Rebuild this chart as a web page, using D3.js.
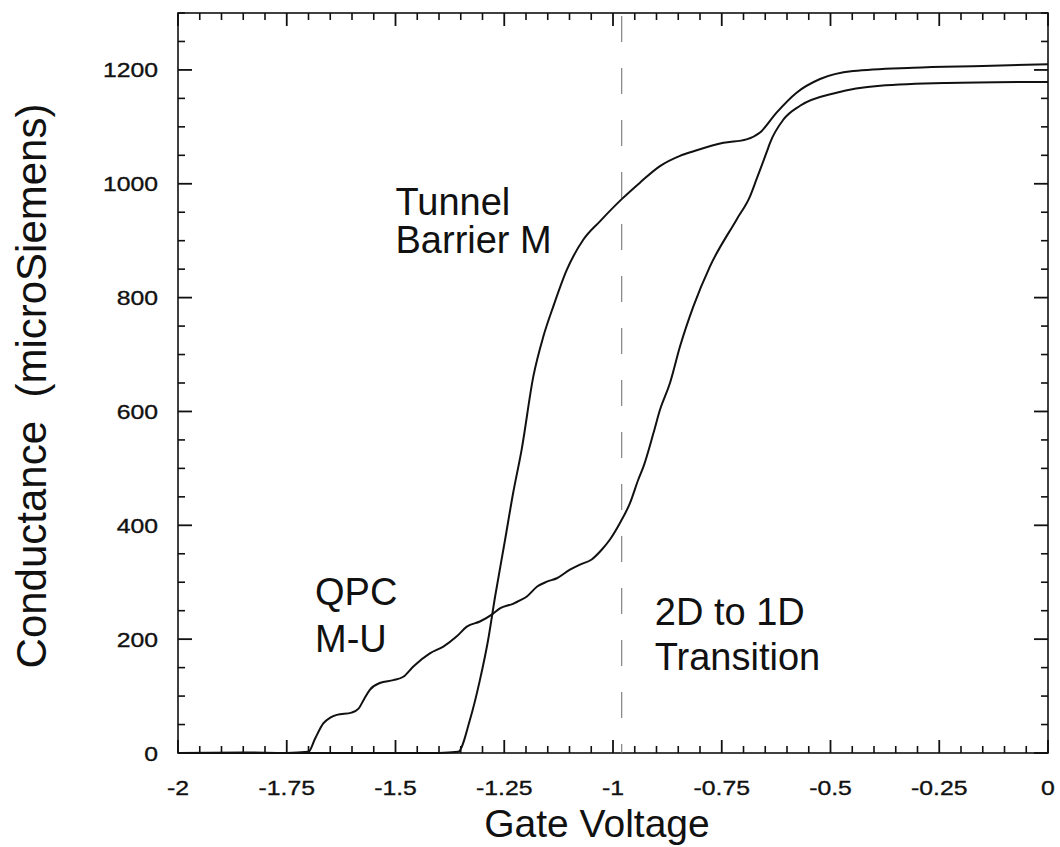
<!DOCTYPE html>
<html>
<head>
<meta charset="utf-8">
<script src="https://cdn.jsdelivr.net/npm/d3@7"></script>
<style>
  html, body { margin: 0; padding: 0; background: #fff; }
  svg { display: block; font-family: "Liberation Sans", Arial, Helvetica, sans-serif; }
</style>
</head>
<body>
<svg id="chart" width="1060" height="847"></svg>
<script>
// Gate sweep of the tunnel barrier (M)
const tunnelVoltage = [-2.00, -1.60, -1.40, -1.356, -1.329, -1.306, -1.287, -1.271, -1.248, -1.230, -1.210, -1.183, -1.160, -1.137, -1.106, -1.068, -1.030, -0.980, -0.938, -0.892, -0.846, -0.815, -0.746, -0.693, -0.662, -0.624, -0.578, -0.524, -0.448, -0.310, -0.150, 0.00];
const tunnelConductance = [0, 0, 0, 2, 58, 128, 199, 275, 375, 455, 533, 662, 732, 785, 849, 902, 934, 973, 1002, 1031, 1049, 1057, 1072, 1078, 1090, 1125, 1160, 1184, 1198, 1204, 1207, 1210];

// Gate sweep of the quantum point contact (M-U)
const qpcVoltage = [-2.00, -1.85, -1.75, -1.700, -1.685, -1.666, -1.650, -1.635, -1.601, -1.585, -1.572, -1.559, -1.536, -1.505, -1.482, -1.459, -1.421, -1.390, -1.359, -1.336, -1.306, -1.277, -1.260, -1.230, -1.214, -1.198, -1.175, -1.152, -1.129, -1.099, -1.076, -1.049, -1.026, -1.007, -0.984, -0.961, -0.942, -0.930, -0.907, -0.892, -0.869, -0.846, -0.815, -0.777, -0.716, -0.685, -0.670, -0.647, -0.639, -0.608, -0.570, -0.486, -0.386, -0.233, 0.00];
const qpcConductance = [0, 1, 0, 2, 25, 52, 62, 67, 71, 78, 95, 111, 123, 128, 134, 152, 175, 187, 205, 222, 231, 244, 254, 262, 268, 275, 292, 301, 307, 322, 331, 340, 357, 375, 404, 439, 480, 503, 562, 603, 650, 714, 785, 855, 937, 978, 1008, 1055, 1072, 1113, 1137, 1160, 1172, 1177, 1179];

// Axis ticks
const xMajorTicks = [-2, -1.75, -1.5, -1.25, -1, -0.75, -0.5, -0.25, 0];
const xTickLabels = ["-2", "-1.75", "-1.5", "-1.25", "-1", "-0.75", "-0.5", "-0.25", "0"];
const yMajorTicks = [0, 200, 400, 600, 800, 1000, 1200];
const yTickLabels = ["0", "200", "400", "600", "800", "1000", "1200"];
const xDomain = [-2, 0];
const yDomain = [0, 1300];
const transitionVoltage = -0.98;

const svg = d3.select("#chart");
const plotLeft = 178, plotRight = 1048, plotTop = 13, plotBottom = 753;

const x = d3.scaleLinear().domain(xDomain).range([plotLeft, plotRight]);
const y = d3.scaleLinear().domain(yDomain).range([plotBottom, plotTop]);

const xMinor = d3.range(-2, 0.0001, 0.05).map(v => +v.toFixed(2))
  .filter(v => !xMajorTicks.some(m => Math.abs(m - v) < 1e-6));
const yMinor = d3.range(0, 1301, 50).filter(v => !yMajorTicks.includes(v));

const ink = "#111";

// Inward tick marks on all four sides, drawn as thin filled bars
const tickG = svg.append("g").attr("fill", ink);
function addXTicks(values, len, w) {
  tickG.selectAll(null).data(values).enter().append("rect")
    .attr("x", d => x(d) - w / 2).attr("y", plotBottom - len)
    .attr("width", w).attr("height", len);
  tickG.selectAll(null).data(values).enter().append("rect")
    .attr("x", d => x(d) - w / 2).attr("y", plotTop)
    .attr("width", w).attr("height", len);
}
function addYTicks(values, len, w) {
  tickG.selectAll(null).data(values).enter().append("rect")
    .attr("y", d => y(d) - w / 2).attr("x", plotLeft)
    .attr("height", w).attr("width", len);
  tickG.selectAll(null).data(values).enter().append("rect")
    .attr("y", d => y(d) - w / 2).attr("x", plotRight - len)
    .attr("height", w).attr("width", len);
}
addXTicks(xMajorTicks, 13, 1.8);
addXTicks(xMinor, 7, 1.6);
addYTicks(yMajorTicks, 14, 1.8);
addYTicks(yMinor, 7, 1.6);

// Plot frame
svg.append("rect")
  .attr("x", plotLeft).attr("y", plotTop)
  .attr("width", plotRight - plotLeft).attr("height", plotBottom - plotTop)
  .attr("fill", "none").attr("stroke", ink).attr("stroke-width", 1.6);

// Tick labels
svg.selectAll("text.xlab").data(xMajorTicks).enter().append("text")
  .attr("class", "xlab")
  .attr("transform", d => `translate(${x(d)},795) scale(1.18,1)`)
  .attr("text-anchor", "middle")
  .attr("fill", ink).attr("stroke", ink).attr("stroke-width", 0.35)
  .style("font-size", "21px")
  .text((d, i) => xTickLabels[i]);

svg.selectAll("text.ylab").data(yMajorTicks).enter().append("text")
  .attr("class", "ylab")
  .attr("transform", d => `translate(${plotLeft - 20},${y(d)}) scale(1.18,1)`)
  .attr("text-anchor", "end").attr("dy", "0.36em")
  .attr("fill", ink).attr("stroke", ink).attr("stroke-width", 0.35)
  .style("font-size", "21px")
  .text((d, i) => yTickLabels[i]);

// Dashed marker of the 2D to 1D transition
svg.append("line")
  .attr("x1", x(transitionVoltage)).attr("x2", x(transitionVoltage))
  .attr("y1", y(yDomain[1])).attr("y2", y(0))
  .attr("stroke", "#777").attr("stroke-width", 1.1)
  .attr("stroke-dasharray", "26,26")
  .attr("stroke-dashoffset", -3);

// Conductance curves
const line = d3.line()
  .x(d => x(d[0]))
  .y(d => y(d[1]))
  .curve(d3.curveMonotoneX);

const tunnelData = tunnelVoltage.map((v, i) => [v, tunnelConductance[i]]);
const qpcData = qpcVoltage.map((v, i) => [v, qpcConductance[i]]);

svg.append("path").datum(qpcData)
  .attr("d", line).attr("fill", "none").attr("stroke", "#111").attr("stroke-width", 2);
svg.append("path").datum(tunnelData)
  .attr("d", line).attr("fill", "none").attr("stroke", "#111").attr("stroke-width", 2);

// Axis titles
svg.append("text")
  .attr("transform", "translate(46,386) rotate(-90)")
  .attr("text-anchor", "middle")
  .attr("fill", "#111")
  .style("font-size", "42px")
  .style("white-space", "pre")
  .text("Conductance  (microSiemens)");

svg.append("text")
  .attr("x", 597).attr("y", 837)
  .attr("text-anchor", "middle")
  .attr("fill", "#111")
  .style("font-size", "39px")
  .text("Gate Voltage");

// Curve annotations
const notes = [
  { t: "Tunnel", v: -1.5, g: 945 },
  { t: "Barrier M", v: -1.5, g: 878 },
  { t: "QPC", v: -1.685, g: 260 },
  { t: "M-U", v: -1.685, g: 177 },
  { t: "2D to 1D", v: -0.904, g: 225 },
  { t: "Transition", v: -0.904, g: 146 }
];
svg.selectAll("text.note").data(notes).enter().append("text")
  .attr("class", "note")
  .attr("x", d => x(d.v)).attr("y", d => y(d.g))
  .attr("fill", "#111")
  .style("font-size", "38px")
  .text(d => d.t);
</script>
</body>
</html>
